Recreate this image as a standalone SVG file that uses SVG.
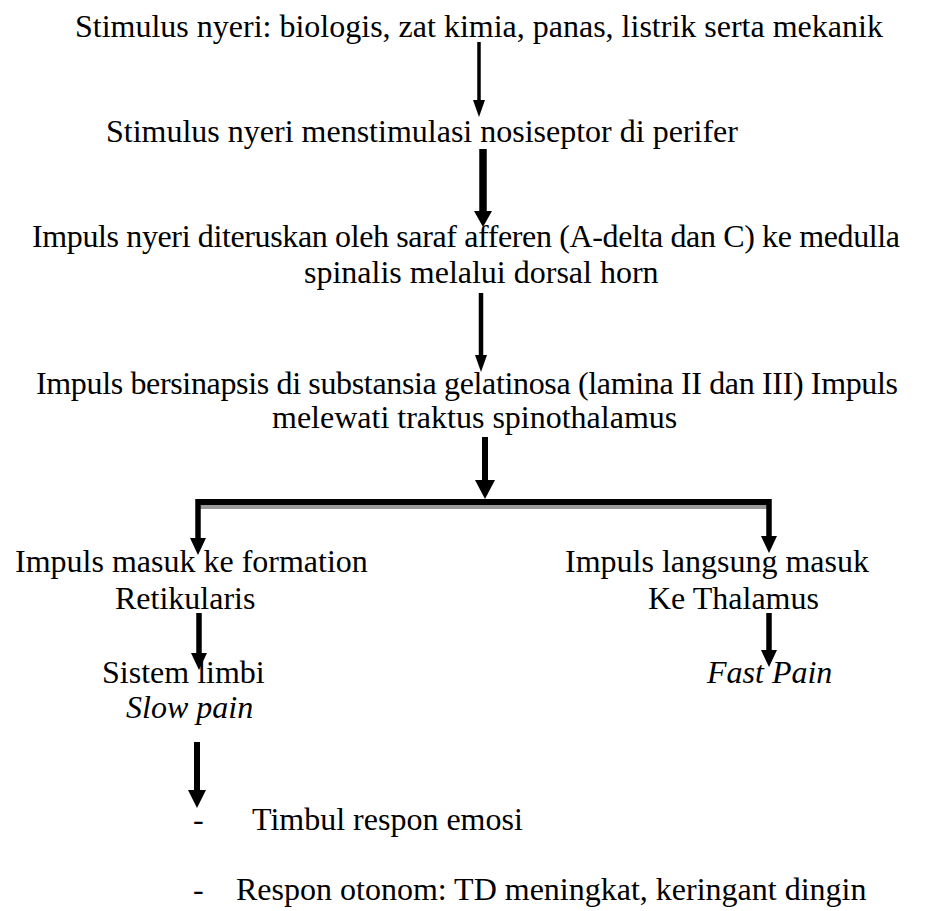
<svg xmlns="http://www.w3.org/2000/svg" width="932" height="911" viewBox="0 0 932 911">
<style>
text{font-family:"Liberation Serif","Times New Roman",serif;font-size:32px;fill:#000}
.i{font-style:italic}
.sh{stroke:#000;fill:none}
.hd{fill:#000;stroke:none}
</style>
<rect width="932" height="911" fill="#fff"/>
<g id="n1"><text x="75" y="37">Stimulus nyeri: biologis, zat kimia, panas, listrik serta mekanik</text></g>
<g id="n2"><text x="106" y="142">Stimulus nyeri menstimulasi nosiseptor di perifer</text></g>
<g id="n3"><text x="32" y="247" textLength="868">Impuls nyeri diteruskan oleh saraf afferen (A-delta dan C) ke medulla</text><text x="304" y="283">spinalis melalui dorsal horn</text></g>
<g id="n4"><text x="36" y="394" textLength="862">Impuls bersinapsis di substansia gelatinosa (lamina II dan III) Impuls</text><text x="272" y="428">melewati traktus spinothalamus</text></g>
<g id="n5"><text x="15" y="572">Impuls masuk ke formation</text><text x="115" y="609">Retikularis</text></g>
<g id="n6"><text x="565" y="572">Impuls langsung masuk</text><text x="648" y="609">Ke Thalamus</text></g>
<g id="n7"><text x="102" y="683">Sistem limbi</text><text class="i" x="126" y="718">Slow pain</text></g>
<g id="n8"><text class="i" x="707" y="683">Fast Pain</text></g>
<g id="n9"><text x="193" y="830">-</text><text x="252" y="830">Timbul respon emosi</text></g>
<g id="n10"><text x="193" y="900">-</text><text x="236" y="900">Respon otonom: TD meningkat, keringant dingin</text></g>
<g id="connectors">
<path class="sh" d="M479 42V101" stroke-width="3.5"/><path class="hd" d="M473 100H485L479 117Z"/>
<path class="sh" d="M483 149V212" stroke-width="7.5"/><path class="hd" d="M474 211H492L483 227Z"/>
<path class="sh" d="M481 293V356" stroke-width="4.5"/><path class="hd" d="M475 355H487L481 372Z"/>
<path class="sh" d="M485 437V482" stroke-width="6"/><path class="hd" d="M475 480H495L485 499Z"/>
<path d="M198 507H771" stroke="#999" stroke-width="4" fill="none"/>
<path class="sh" d="M198 502H771" stroke-width="6"/>
<path class="sh" d="M198 499V540" stroke-width="5.5"/><path class="hd" d="M190 538H206L198 555Z"/>
<path class="sh" d="M769 499V538" stroke-width="5.5"/><path class="hd" d="M761 536H777L769 553Z"/>
<path class="sh" d="M199 613V655" stroke-width="5.5"/><path class="hd" d="M191 653H207L199 670Z"/>
<path class="sh" d="M769 613V652" stroke-width="5.5"/><path class="hd" d="M761 650H777L769 667Z"/>
<path class="sh" d="M197 742V791" stroke-width="6"/><path class="hd" d="M188 790H206L197 808Z"/>
</g>
</svg>
